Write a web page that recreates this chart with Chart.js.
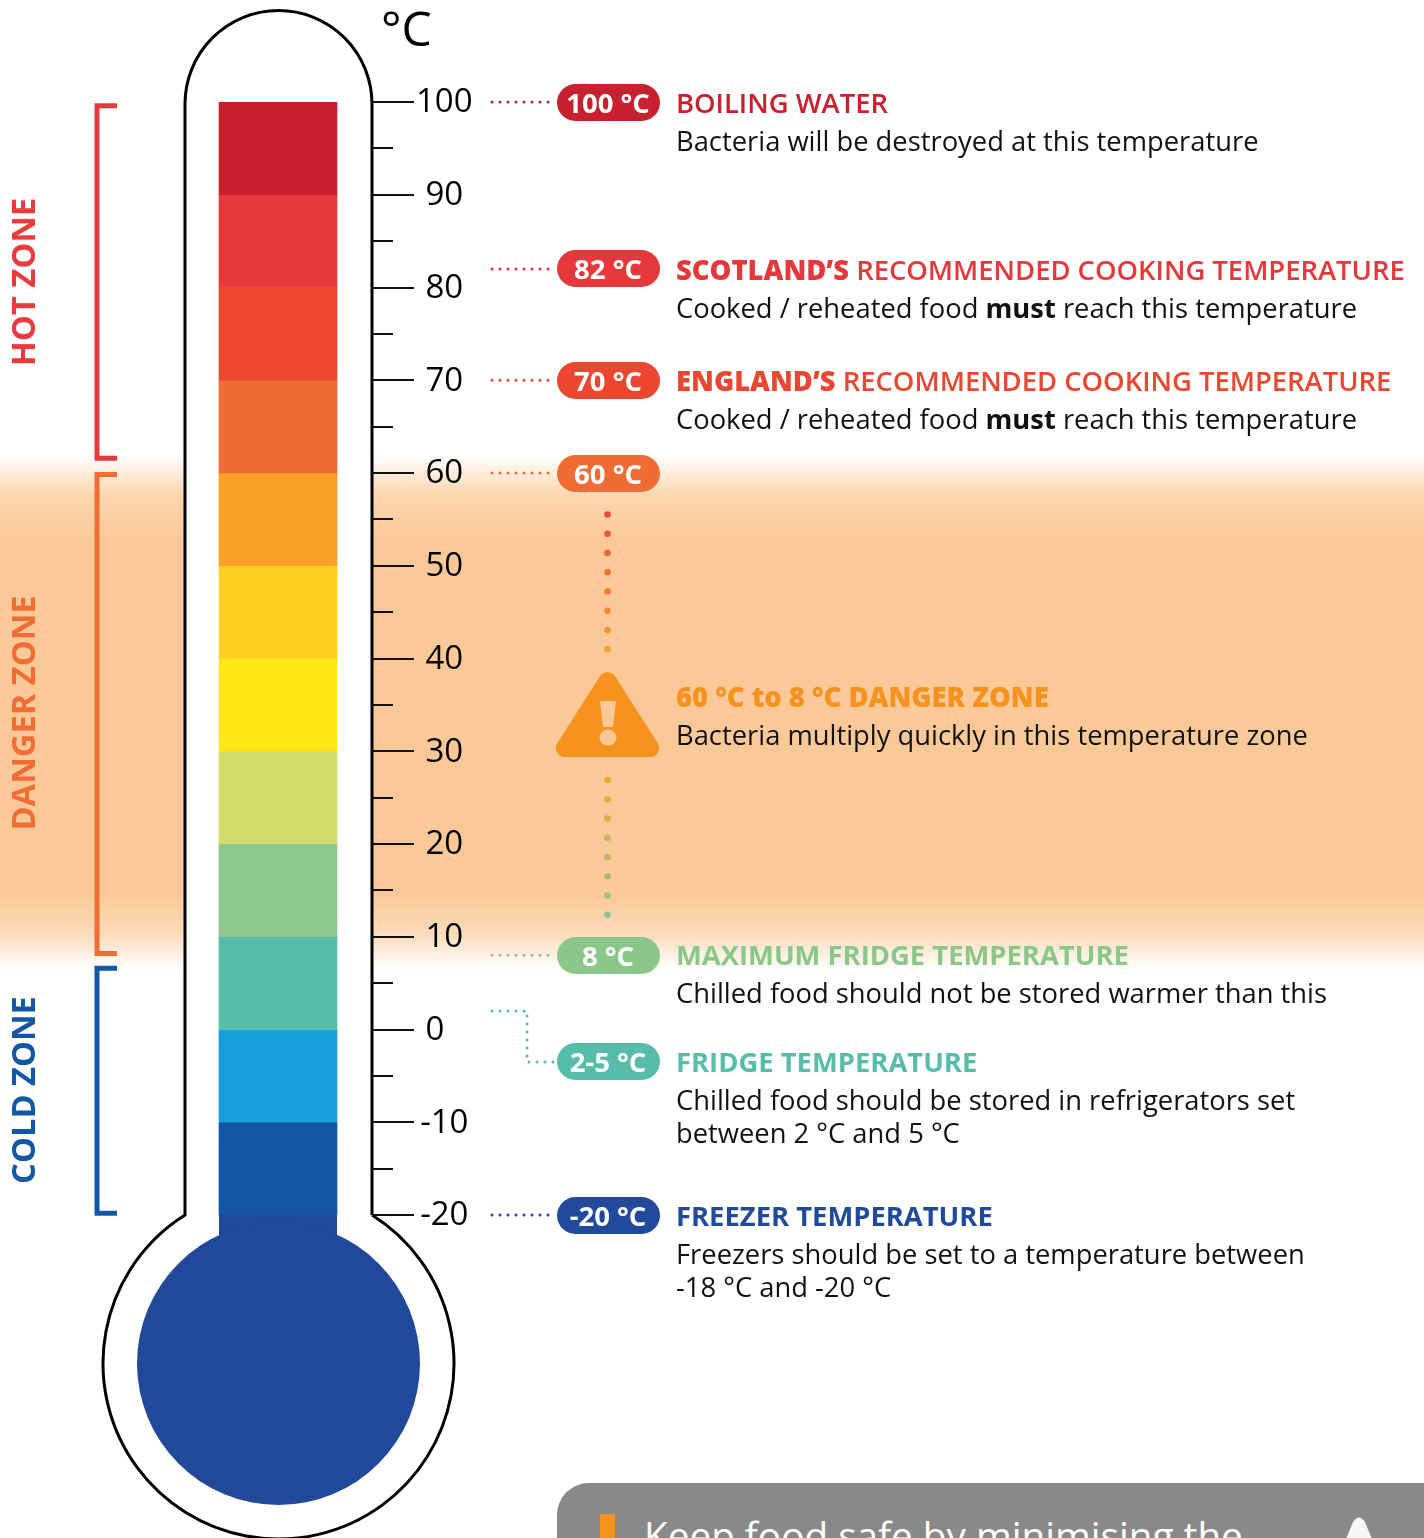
<!DOCTYPE html>
<html lang="en">

<head>
    <meta charset="UTF-8" />
    <title>Food temperature thermometer</title>
    <style>
        * {
            padding: 0;
            margin: 0;
            box-sizing: border-box;
            font-family: "Open Sans", sans-serif;
        }

        body {
            width: 1424px;
            height: 1538px;
            position: relative;
            overflow: hidden;
            background: #ffffff;
        }

        .danger-band {
            position: absolute;
            left: 0;
            top: 455px;
            width: 1424px;
            height: 515px;
            background: linear-gradient(180deg, rgba(251, 201, 151, 0) 0, #fcd6ae 40px, #fbc997 85px, #fbc997 440px, #fcdcbc 480px, rgba(251, 201, 151, 0) 100%);
        }

        #chart {
            position: absolute;
            left: 0;
            top: 0;
        }

        .unit {
            position: absolute;
            left: 381px;
            top: -6px;
            font-size: 48px;
            line-height: 68px;
            color: #000;
        }

        .zone {
            position: absolute;
            left: 23px;
            font-size: 32.7px;
            line-height: 40px;
            font-weight: 700;
            white-space: nowrap;
            transform: translate(-50%, -50%) rotate(-90deg);
        }

        .pill {
            position: absolute;
            left: 556.5px;
            width: 103px;
            height: 37px;
            margin-top: -18.5px;
            border-radius: 18.5px;
            color: #fff;
            font-size: 27.5px;
            line-height: 37px;
            font-weight: 700;
            text-align: center;
            white-space: nowrap;
        }

        .head,
        .body {
            position: absolute;
            left: 676px;
            height: 34px;
            line-height: 34px;
            margin-top: -17px;
            white-space: nowrap;
        }

        .head {
            font-size: 27.4px;
            font-weight: 600;
        }

        .head.strong {
            font-weight: 700;
        }

        .head b {
            font-weight: 800;
        }

        .body {
            font-size: 27.35px;
            color: #111;
        }

        .body b {
            font-weight: 700;
        }

        .tip {
            position: absolute;
            left: 557px;
            top: 1483px;
            width: 920px;
            height: 120px;
            border-radius: 32px;
            background: #898989;
        }

        .tip i {
            position: absolute;
            left: 43px;
            top: 31px;
            width: 15px;
            height: 80px;
            background: #f6931f;
        }

        .tip span {
            position: absolute;
            left: 87px;
            top: 28px;
            font-size: 38.7px;
            line-height: 48px;
            color: #fff;
            white-space: nowrap;
        }

        .tip svg {
            position: absolute;
            left: 770px;
            top: 33px;
        }
    </style>
</head>

<body>
    <div class="danger-band"></div>
    <canvas id="chart" width="1424" height="1538"></canvas>

    <div class="unit">°C</div>

    <div class="zone" style="top:281.5px;color:#e63a3c">HOT ZONE</div>
    <div class="zone" style="top:712.5px;color:#f26d36">DANGER ZONE</div>
    <div class="zone" style="top:1090px;color:#1457a5">COLD ZONE</div>

    <div class="head" style="top:103px;color:#c7202e">BOILING WATER</div>
    <div class="body" style="top:141px">Bacteria will be destroyed at this temperature</div>

    <div class="head" style="top:270px;color:#e5383b"><b>SCOTLAND’S</b> RECOMMENDED COOKING TEMPERATURE</div>
    <div class="body" style="top:308px">Cooked / reheated food <b>must</b> reach this temperature</div>

    <div class="head" style="top:381px;color:#ea4630"><b>ENGLAND’S</b> RECOMMENDED COOKING TEMPERATURE</div>
    <div class="body" style="top:419px">Cooked / reheated food <b>must</b> reach this temperature</div>

    <div class="head" style="top:697px;color:#f6931f"><b>60 °C to 8 °C DANGER ZONE</b></div>
    <div class="body" style="top:735px">Bacteria multiply quickly in this temperature zone</div>

    <div class="head strong" style="top:955px;color:#8cc78a">MAXIMUM FRIDGE TEMPERATURE</div>
    <div class="body" style="top:993px">Chilled food should not be stored warmer than this</div>

    <div class="head strong" style="top:1062px;color:#57bcaa">FRIDGE TEMPERATURE</div>
    <div class="body" style="top:1100px">Chilled food should be stored in refrigerators set</div>
    <div class="body" style="top:1133px">between 2 °C and 5 °C</div>

    <div class="head strong" style="top:1216px;color:#214a9b">FREEZER TEMPERATURE</div>
    <div class="body" style="top:1254px">Freezers should be set to a temperature between</div>
    <div class="body" style="top:1287px">-18 °C and -20 °C</div>

    <div class="tip">
        <i></i>
        <span>Keep food safe by minimising the</span>
        <svg width="64" height="40"><path d="M4 60 L26 6 Q32 -3 38 6 L60 60 Z" fill="#f7f7f7" /></svg>
    </div>

    <script src="https://cdn.jsdelivr.net/npm/chart.js@4"></script>
    <script>
        // colour bands of the thermometer, top to bottom
        const bandLows = [90, 80, 70, 60, 50, 40, 30, 20, 10, 0, -10, -20];
        const bandHighs = [100, 90, 80, 70, 60, 50, 40, 30, 20, 10, 0, -10];
        const bandColors = ["#c6202e", "#e53a3b", "#ec4832", "#f06c34", "#f8a22b", "#ffd020",
            "#ffe816", "#cfdc69", "#8dc78b", "#57bcaa", "#189fdc", "#1356a3"];

        // marked temperatures
        const markerValues = [100, 82, 70, 60, 8, 2, -20];
        const markerLabels = ["100 °C", "82 °C", "70 °C", "60 °C", "8 °C", "2-5 °C", "-20 °C"];
        const markerColors = ["#c7202e", "#e5383b", "#ea4630", "#f06c34", "#8cc78a", "#57bcaa", "#214a9b"];

        // zone brackets, value ranges on the axis
        const zoneTops = [99.6, 59.85, 6.6];
        const zoneBottoms = [61.6, 8.2, -19.8];
        const zoneColors = ["#e63a3c", "#f26d36", "#1457a5"];

        const bulbColor = "#214999";
        const fridgeIndex = 5;

        const mix = (a, b, t) => {
            const pa = [1, 3, 5].map(i => parseInt(a.substr(i, 2), 16));
            const pb = [1, 3, 5].map(i => parseInt(b.substr(i, 2), 16));
            return `rgb(${pa.map((v, i) => Math.round(v + (pb[i] - v) * t)).join(",")})`;
        };

        const thermometer = {
            id: "thermometer",
            beforeDraw(chart) {
                // tick numbers sit a pixel lower than the canvas middle baseline puts them
                chart.scales.y.getLabelItems(chart.chartArea).forEach(item => {
                    item.options.translation[1] += 1;
                });
            },
            beforeDatasetsDraw(chart) {
                const { ctx, chartArea, scales } = chart;
                const y = scales.y;
                const cx = (chartArea.left + chartArea.right) / 2;
                const tubeR = 93.5;
                const neck = y.getPixelForValue(-20);
                const bulbY = 1363.5;
                const ang = Math.asin(tubeR / 175.5);

                ctx.save();
                // glass outline
                ctx.beginPath();
                ctx.arc(cx + 0.5, 104, tubeR, Math.PI, 0);
                ctx.lineTo(cx + 0.5 + tubeR, neck);
                ctx.arc(cx + 0.5, bulbY, 175.5, -Math.PI / 2 + ang, -Math.PI / 2 - ang + Math.PI * 2);
                ctx.closePath();
                ctx.fillStyle = "#fff";
                ctx.fill();
                ctx.lineWidth = 3;
                ctx.strokeStyle = "#000";
                ctx.stroke();

                // bulb and stem
                ctx.fillStyle = bulbColor;
                ctx.fillRect(cx - 59, neck, 118, 40);
                ctx.beginPath();
                ctx.arc(cx + 0.5, bulbY, 141.5, 0, Math.PI * 2);
                ctx.fill();

                // axis tick marks, long every 10 degrees
                ctx.strokeStyle = "#111";
                ctx.lineWidth = 2;
                y.ticks.forEach(t => {
                    const py = Math.round(y.getPixelForValue(t.value));
                    ctx.beginPath();
                    ctx.moveTo(chartArea.right, py);
                    ctx.lineTo(chartArea.right + (t.value % 10 === 0 ? 42 : 21), py);
                    ctx.stroke();
                });

                // zone brackets
                ctx.lineWidth = 5;
                zoneTops.forEach((top, i) => {
                    const y0 = y.getPixelForValue(top);
                    const y1 = y.getPixelForValue(zoneBottoms[i]);
                    ctx.strokeStyle = zoneColors[i];
                    ctx.beginPath();
                    ctx.moveTo(117, y0);
                    ctx.lineTo(97, y0);
                    ctx.lineTo(97, y1);
                    ctx.lineTo(117, y1);
                    ctx.stroke();
                });

                // dotted leaders from the scale to the pills
                ctx.lineWidth = 3;
                ctx.lineCap = "round";
                ctx.setLineDash([0, 8]);
                markerValues.forEach((v, i) => {
                    const py = y.getPixelForValue(v);
                    ctx.strokeStyle = markerColors[i];
                    ctx.beginPath();
                    ctx.moveTo(492, py);
                    if (i === fridgeIndex) {
                        ctx.lineTo(527, py);
                        ctx.lineTo(527, py + 51);
                    }
                    ctx.lineTo(555, i === fridgeIndex ? py + 51 : py);
                    ctx.stroke();
                });
                ctx.setLineDash([]);

                // dots above and below the warning sign
                for (let i = 0; i < 8; i++) {
                    ctx.fillStyle = mix("#ee4a35", "#f8a22b", i / 7);
                    ctx.beginPath();
                    ctx.arc(607.5, 514.5 + i * 19.25, 3.3, 0, Math.PI * 2);
                    ctx.fill();
                    ctx.fillStyle = mix("#f6a52b", "#8cc78a", i / 7);
                    ctx.beginPath();
                    ctx.arc(607.5, 780 + i * 19.25, 3.3, 0, Math.PI * 2);
                    ctx.fill();
                }

                // warning sign
                ctx.fillStyle = "#f6931f";
                ctx.beginPath();
                ctx.moveTo(607.5, 757);
                ctx.arcTo(666.6, 757, 607.5, 664.4, 9);
                ctx.arcTo(607.5, 664.4, 548.4, 757, 9);
                ctx.arcTo(548.4, 757, 607.5, 757, 9);
                ctx.closePath();
                ctx.fill();
                ctx.fillStyle = "#fbc997";
                ctx.beginPath();
                ctx.moveTo(600, 701);
                ctx.lineTo(616, 701);
                ctx.lineTo(613, 727);
                ctx.lineTo(603, 727);
                ctx.closePath();
                ctx.fill();
                ctx.beginPath();
                ctx.ellipse(608, 737.5, 8.5, 8, 0, 0, Math.PI * 2);
                ctx.fill();
                ctx.restore();
            },
        };

        const chart = new Chart(document.getElementById("chart"), {
            type: "bar",
            data: {
                labels: ["temperature"],
                datasets: bandHighs.map((high, i) => ({
                    data: [[bandLows[i], high]],
                    backgroundColor: bandColors[i],
                    barThickness: 118,
                    grouped: false,
                })),
            },
            plugins: [thermometer],
            options: {
                responsive: false,
                devicePixelRatio: 1,
                animation: false,
                layout: { padding: { left: 184, top: 102, right: 908, bottom: 323 } },
                plugins: { legend: { display: false }, tooltip: { enabled: false } },
                scales: {
                    x: { display: false },
                    y: {
                        position: "right",
                        min: -20,
                        max: 100,
                        afterFit: (scale) => { scale.width = 144; },
                        border: { display: false },
                        grid: { display: false, drawTicks: false },
                        ticks: {
                            stepSize: 5,
                            autoSkip: false,
                            crossAlign: "center",
                            padding: 44,
                            color: "#000",
                            font: { family: "'Open Sans'", size: 33 },
                            // only every second tick gets a number, the lone 0 sits a bit left
                            callback: (v) => (v % 10 !== 0 ? "" : v === 0 ? "0\u2007" : String(v)),
                        },
                    },
                },
            },
        });

        // pills sit on the marked value, the fridge one a bit lower
        markerValues.forEach((v, i) => {
            const pill = document.createElement("div");
            pill.className = "pill";
            pill.textContent = markerLabels[i];
            pill.style.background = markerColors[i];
            pill.style.top = (chart.scales.y.getPixelForValue(v) + (i === fridgeIndex ? 51 : 0)) + "px";
            document.body.appendChild(pill);
        });
    </script>
</body>

</html>
